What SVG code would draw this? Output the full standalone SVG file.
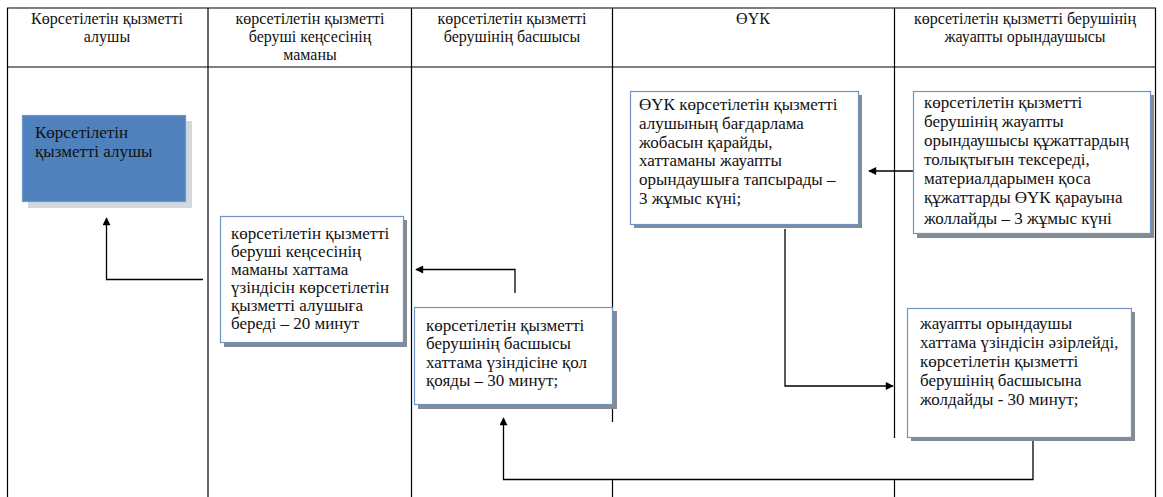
<svg xmlns="http://www.w3.org/2000/svg" width="1163" height="497" viewBox="0 0 1163 497">
  <style>
    .grid { stroke: #000; stroke-width: 1.2; fill: none; }
    .hdr { font-family: "Liberation Serif", "DejaVu Serif", serif; font-size: 16px; fill: #111; text-anchor: middle; }
    .txt { font-family: "Liberation Serif", "DejaVu Serif", serif; font-size: 17px; fill: #111; }
    .box { fill: #fff; stroke: #6f93c4; stroke-width: 1.2; }
    .shadow { fill: #858b94; }
    .conn { stroke: #000; stroke-width: 1.3; fill: none; marker-end: url(#arrow); }
  </style>
  <defs>
    <marker id="arrow" viewBox="0 0 10 10" refX="9" refY="5" markerWidth="9" markerHeight="8" markerUnits="userSpaceOnUse" orient="auto">
      <path d="M0,0 L10,5 L0,10 z" fill="#000"/>
    </marker>
  </defs>
  <rect width="1163" height="497" fill="#fff"/>

  <!-- swimlane table -->
  <g id="table" class="grid">
    <line x1="7" y1="8" x2="1156" y2="8"/>
    <line x1="7" y1="67" x2="1156" y2="67"/>
    <line x1="7.5" y1="8" x2="7.5" y2="497"/>
    <line x1="208" y1="8" x2="208" y2="497"/>
    <line x1="411.5" y1="8" x2="411.5" y2="497"/>
    <line x1="612.5" y1="8" x2="612.5" y2="422"/>
    <line x1="612.5" y1="479" x2="612.5" y2="497"/>
    <line x1="894.5" y1="8" x2="894.5" y2="438"/>
    <line x1="894.5" y1="479" x2="894.5" y2="497"/>
    <line x1="1155.5" y1="8" x2="1155.5" y2="497"/>
  </g>

  <g id="headers" class="hdr">
    <text x="107" y="24">Көрсетілетін қызметті</text>
    <text x="107" y="42">алушы</text>
    <text x="310" y="24">көрсетілетін қызметті</text>
    <text x="310" y="42">беруші кеңсесінің</text>
    <text x="310" y="60">маманы</text>
    <text x="512" y="24">көрсетілетін қызметті</text>
    <text x="512" y="42">берушінің басшысы</text>
    <text x="753" y="24">ӨҮК</text>
    <text x="1025" y="24">көрсетілетін қызметті берушінің</text>
    <text x="1025" y="42">жауапты орындаушысы</text>
  </g>

  <!-- connectors -->
  <g id="connectors">
    <path class="conn" d="M913,171 H869"/>
    <path class="conn" d="M785,229 V386 H893"/>
    <path class="conn" d="M1033,441 V479.5 H503.5 V418"/>
    <path class="conn" d="M515,293 V269.5 H416"/>
    <path class="conn" d="M203,279.5 H106.5 V218"/>
  </g>

  <!-- service recipient -->
  <g id="node-recipient">
    <rect x="28" y="121" width="164" height="87" fill="#d3d7de"/>
    <rect x="22.5" y="115.5" width="163" height="86" fill="#4f81bd" stroke="#6d96c9" stroke-width="1.2"/>
    <text class="txt" x="35" y="138">Көрсетілетін</text>
    <text class="txt" x="35" y="157">қызметті алушы</text>
  </g>

  <!-- office specialist -->
  <g id="node-specialist">
    <rect class="shadow" x="224" y="220" width="183" height="127"/>
    <rect class="box" x="220.5" y="216.5" width="183" height="126"/>
    <text class="txt" x="231" y="239">көрсетілетін қызметті</text>
    <text class="txt" x="231" y="257">беруші кеңсесінің</text>
    <text class="txt" x="231" y="275">маманы хаттама</text>
    <text class="txt" x="231" y="293">үзіндісін көрсетілетін</text>
    <text class="txt" x="231" y="311">қызметті алушыға</text>
    <text class="txt" x="231" y="329">береді – 20 минут</text>
  </g>

  <!-- head of the service provider -->
  <g id="node-head">
    <rect class="shadow" x="418" y="311" width="199" height="98"/>
    <rect class="box" x="414.5" y="307.5" width="198" height="97"/>
    <text class="txt" x="426" y="331">көрсетілетін қызметті</text>
    <text class="txt" x="426" y="349">берушінің басшысы</text>
    <text class="txt" x="426" y="368">хаттама үзіндісіне қол</text>
    <text class="txt" x="426" y="386">қояды – 30 минут;</text>
  </g>

  <!-- ӨҮК review -->
  <g id="node-ouk">
    <rect class="shadow" x="634" y="95" width="228" height="133"/>
    <rect class="box" x="630.5" y="91.5" width="228" height="133"/>
    <text class="txt" x="639" y="110">ӨҮК көрсетілетін қызметті</text>
    <text class="txt" x="639" y="129">алушының бағдарлама</text>
    <text class="txt" x="639" y="148">жобасын қарайды,</text>
    <text class="txt" x="639" y="166">хаттаманы жауапты</text>
    <text class="txt" x="639" y="185">орындаушыға тапсырады  –</text>
    <text class="txt" x="639" y="204">3 жұмыс күні;</text>
  </g>

  <!-- executor: completeness check -->
  <g id="node-executor-check">
    <rect class="shadow" x="917" y="95" width="237" height="143"/>
    <rect class="box" x="913.5" y="91.5" width="237" height="142"/>
    <text class="txt" x="924" y="108">көрсетілетін қызметті</text>
    <text class="txt" x="924" y="127">берушінің жауапты</text>
    <text class="txt" x="924" y="146">орындаушысы құжаттардың</text>
    <text class="txt" x="924" y="165">толықтығын тексереді,</text>
    <text class="txt" x="924" y="184">материалдарымен қоса</text>
    <text class="txt" x="924" y="203">құжаттарды ӨҮК қарауына</text>
    <text class="txt" x="924" y="224">жоллайды – 3 жұмыс күні</text>
  </g>

  <!-- executor: protocol extract -->
  <g id="node-executor-extract">
    <rect class="shadow" x="911" y="312" width="224" height="129"/>
    <rect class="box" x="907.5" y="308.5" width="224" height="129"/>
    <text class="txt" x="920" y="329">жауапты орындаушы</text>
    <text class="txt" x="920" y="348">хаттама үзіндісін әзірлейді,</text>
    <text class="txt" x="920" y="367">көрсетілетін қызметті</text>
    <text class="txt" x="920" y="386">берушінің басшысына</text>
    <text class="txt" x="920" y="405">жолдайды - 30 минут;</text>
  </g>
</svg>
